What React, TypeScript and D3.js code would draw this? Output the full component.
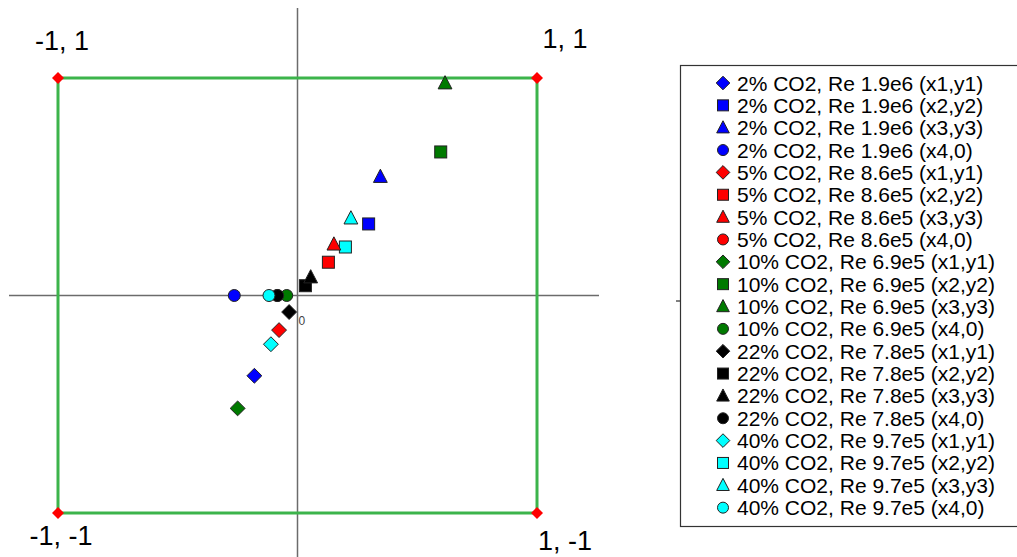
import React from "react";
import * as d3 from "d3";

// ---- data ----
const seriesNames = [
  "2% CO2, Re 1.9e6",
  "5% CO2, Re 8.6e5",
  "10% CO2, Re 6.9e5",
  "22% CO2, Re 7.8e5",
  "40% CO2, Re 9.7e5",
];
const seriesColors = ["#0000ff", "#ff0000", "#007a00", "#000000", "#00ffff"];
const pointKinds = ["(x1,y1)", "(x2,y2)", "(x3,y3)", "(x4,0)"];
const pointShapes = ["diamond", "square", "triangle", "circle"];

// per series: [x1,y1], [x2,y2], [x3,y3], [x4,0]
const co2_2 = [[-0.18, -0.369], [0.297, 0.329], [0.346, 0.546], [-0.264, 0]];
const co2_5 = [[-0.077, -0.159], [0.129, 0.153], [0.152, 0.235], [-0.085, 0]];
const co2_10 = [[-0.25, -0.519], [0.598, 0.66], [0.616, 0.976], [-0.045, 0]];
const co2_22 = [[-0.035, -0.076], [0.033, 0.045], [0.055, 0.084], [-0.083, 0]];
const co2_40 = [[-0.111, -0.224], [0.2, 0.223], [0.223, 0.355], [-0.119, 0]];
const seriesData = [co2_2, co2_5, co2_10, co2_22, co2_40];

const cornerPoints = [[-1, 1], [1, 1], [-1, -1], [1, -1]];
const cornerLabels = ["-1, 1", "1, 1", "-1, -1", "1, -1"];

const x = d3.scaleLinear().domain([-1, 1]).range([58, 537]);
const y = d3.scaleLinear().domain([-1, 1]).range([513, 78]);

function marker(shape: string, cx: number, cy: number, s: number, fill: string, key: string) {
  const stroke = "#222";
  if (shape === "square")
    return <rect key={key} x={cx - s / 2} y={cy - s / 2} width={s} height={s} fill={fill} stroke={stroke} strokeWidth={1} />;
  if (shape === "diamond") {
    const r = s * 0.62;
    return <path key={key} d={`M${cx},${cy - r}L${cx + r},${cy}L${cx},${cy + r}L${cx - r},${cy}Z`} fill={fill} stroke={stroke} strokeWidth={1} />;
  }
  if (shape === "triangle") {
    const h = s * 1.05;
    const w = s * 1.15;
    return <path key={key} d={`M${cx},${cy - h * 0.6}L${cx + w / 2},${cy + h * 0.45}L${cx - w / 2},${cy + h * 0.45}Z`} fill={fill} stroke={stroke} strokeWidth={1} />;
  }
  return <circle key={key} cx={cx} cy={cy} r={s / 2} fill={fill} stroke={stroke} strokeWidth={1} />;
}

export default function App() {
  const font = "Arial, 'Liberation Sans', sans-serif";
  const legendX = 723;
  const legendY0 = 83;
  const legendStep = 22.35;
  const legendRows: { name: string; color: string; shape: string }[] = [];
  seriesNames.forEach((n, i) =>
    pointKinds.forEach((k, j) =>
      legendRows.push({ name: `${n} ${k}`, color: seriesColors[i], shape: pointShapes[j] })
    )
  );
  const labelPos = [
    { dx: 4, dy: -28 },
    { dx: 28, dy: -30 },
    { dx: 3, dy: 32 },
    { dx: 28, dy: 37 },
  ];
  const order = [3, 0, 1, 2];
  return (
    <svg width={1017} height={557} style={{ position: "absolute", left: 0, top: 0, background: "#fff" }}>
      <rect x={0} y={0} width={1017} height={557} fill="#fff" />
      {/* axes */}
      <line x1={9} x2={599} y1={y(0)} y2={y(0)} stroke="#6b6b6b" strokeWidth={1.5} />
      <line x1={x(0)} x2={x(0)} y1={8} y2={557} stroke="#6b6b6b" strokeWidth={1.5} />
      <text x={x(0) + 1} y={y(0) + 29} fontFamily={font} fontSize={12} fill="#444" textAnchor="start">0</text>
      {/* green box */}
      <rect x={x(-1)} y={y(1)} width={x(1) - x(-1)} height={y(-1) - y(1)} fill="none" stroke="#3cb44b" strokeWidth={3} />
      {/* corner markers and labels */}
      {cornerPoints.map((p, i) => (
        <g key={"c" + i}>
          <path
            d={`M${x(p[0])},${y(p[1]) - 6}L${x(p[0]) + 6},${y(p[1])}L${x(p[0])},${y(p[1]) + 6}L${x(p[0]) - 6},${y(p[1])}Z`}
            fill="#ff0000"
          />
          <text
            x={x(p[0]) + labelPos[i].dx}
            y={y(p[1]) + labelPos[i].dy}
            fontFamily={font}
            fontSize={27}
            textAnchor="middle"
            fill="#000"
          >
            {cornerLabels[i]}
          </text>
        </g>
      ))}
      {/* data points */}
      {order.map((j) =>
        seriesData.map((s, i) =>
          marker(pointShapes[j], x(s[j][0]), y(s[j][1]), 12, seriesColors[i], `p${i}-${j}`)
        )
      )}
      {/* legend */}
      <line x1={676} x2={681} y1={301} y2={301} stroke="#000" strokeWidth={1} />
      <rect x={680.5} y={65.5} width={400} height={461} fill="none" stroke="#333" strokeWidth={1.2} />
      {legendRows.map((r, k) => {
        const cy = legendY0 + k * legendStep;
        return (
          <g key={"l" + k}>
            {marker(r.shape, legendX, cy, 11, r.color, "lm" + k)}
            <text x={737} y={cy + 7.5} fontFamily={font} fontSize={21} fill="#000">
              {r.name}
            </text>
          </g>
        );
      })}
    </svg>
  );
}
